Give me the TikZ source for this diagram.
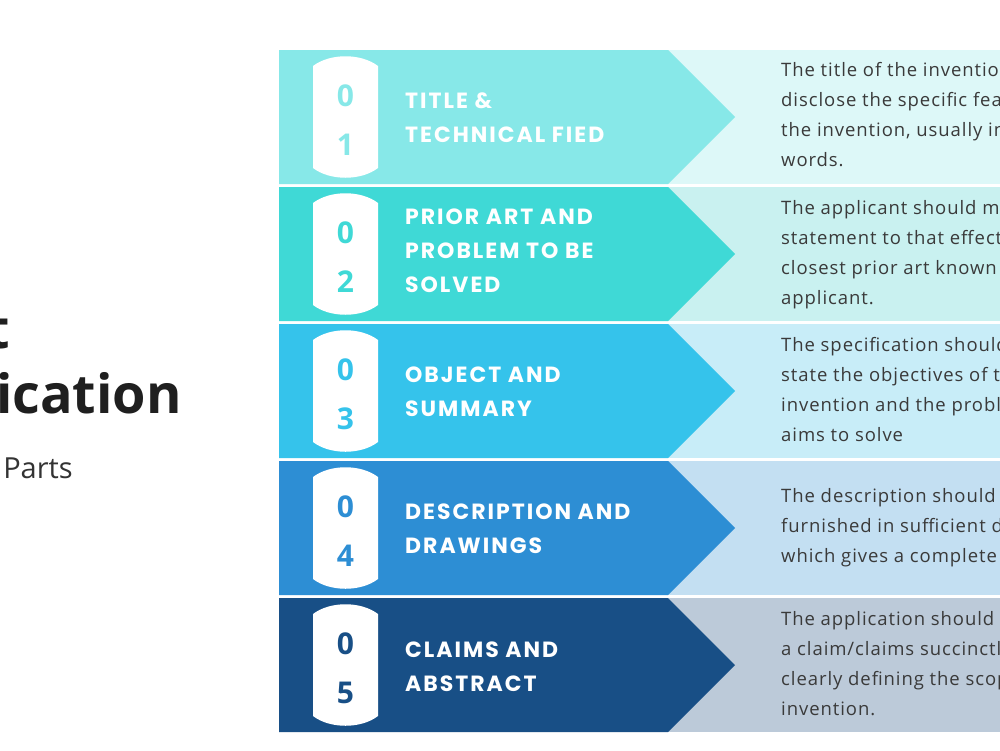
\documentclass[tikz,border=0pt]{standalone}
\usepackage{fontspec}
\setmainfont{Open Sans}
\newfontfamily\lbl[LetterSpace=9]{Poppins}
\newfontfamily\nmf{Open Sans}
\newfontfamily\dsc[LetterSpace=5]{Open Sans}
\definecolor{cA}{HTML}{87E8E8}\definecolor{lA}{HTML}{DDF8F8}
\definecolor{cB}{HTML}{3FD9D6}\definecolor{lB}{HTML}{C9F1F0}
\definecolor{cC}{HTML}{35C3EB}\definecolor{lC}{HTML}{C8EDF8}
\definecolor{cD}{HTML}{2D8ED4}\definecolor{lD}{HTML}{C3DFF2}
\definecolor{cE}{HTML}{184F86}\definecolor{lE}{HTML}{BCCAD9}
\definecolor{txt}{HTML}{3A3A3A}
\tikzset{
  lab/.style={anchor=west,text=white,font=\lbl\bfseries\fontsize{22}{34}\selectfont,align=left,inner sep=0pt},
  num/.style={font=\nmf\bfseries\fontsize{30}{30}\selectfont,inner sep=0pt},
  desc/.style={anchor=base west,text=txt,font=\dsc\fontsize{18.5}{20}\selectfont,inner sep=0pt},
}
\begin{document}
\begin{tikzpicture}[x=1pt,y=-1pt]
\useasboundingbox (0,0) rectangle (1000,750);
\clip (0,0) rectangle (1000,750);
\fill[white] (0,0) rectangle (1000,750);
% left title
\node[anchor=base east,font=\bfseries\fontsize{54}{50}\selectfont,text=black!88,inner sep=0pt] (t1) at (10,348) {Patent};
\node[anchor=base east,font=\bfseries\fontsize{54}{50}\selectfont,text=black!88,inner sep=0pt] (t2) at (182,413) {Specification};
\node[anchor=base east,font=\fontsize{29}{30}\selectfont,text=black!80,inner sep=0pt] (t3) at (73,478) {Its Parts};
% rows
\foreach \i/\c/\l/\na/\nb in {0/cA/lA/0/1,1/cB/lB/0/2,2/cC/lC/0/3,3/cD/lD/0/4,4/cE/lE/0/5}{
  \pgfmathsetmacro\t{50+137*\i}
  \pgfmathsetmacro\b{\t+134}
  \pgfmathsetmacro\m{\t+67}
  \fill[\l] (668,\t) rectangle (1000,\b);
  \fill[\c] (279,\t) -- (668,\t) -- (735,\m) -- (668,\b) -- (279,\b) -- cycle;
  \fill[white] (313,\t+16) .. controls (330,\t+3) and (361,\t+3) .. (378,\t+16) -- (378,\b-16) .. controls (361,\b-3) and (330,\b-3) .. (313,\b-16) -- cycle;
  \node[num,text=\c] (na\i) at (345.5,\m-21) {\na};
  \node[num,text=\c] (nb\i) at (345.5,\m+28) {\nb};
}
\node[lab] (l1) at (405,118) {TITLE \&\\TECHNICAL FIED};
\node[lab] (l2) at (405,251) {PRIOR ART AND\\PROBLEM TO BE\\SOLVED};
\node[lab] (l3) at (405,392) {OBJECT AND\\SUMMARY};
\node[lab] (l4) at (405,529) {DESCRIPTION AND\\DRAWINGS};
\node[lab] (l5) at (405,667) {CLAIMS AND\\ABSTRACT};
% descriptions
\node[desc] (d11) at (781,76) {The title of the invention should};
\node[desc] (d12) at (781,106) {disclose the specific features of};
\node[desc] (d13) at (781,136) {the invention, usually in 15};
\node[desc] (d14) at (781,166) {words.};
\node[desc] (d21) at (781,214) {The applicant should make a};
\node[desc] (d22) at (781,244) {statement to that effect of};
\node[desc] (d23) at (781,274) {closest prior art known to the};
\node[desc] (d24) at (781,304) {applicant.};
\node[desc] (d31) at (781,351) {The specification should};
\node[desc] (d32) at (781,381) {state the objectives of the};
\node[desc] (d33) at (781,411) {invention and the problem it};
\node[desc] (d34) at (781,441) {aims to solve};
\node[desc] (d41) at (781,502) {The description should be};
\node[desc] (d42) at (781,532) {furnished in sufficient detail};
\node[desc] (d43) at (781,562) {which gives a complete};
\node[desc] (d51) at (781,625) {The application should contain};
\node[desc] (d52) at (781,655) {a claim/claims succinctly};
\node[desc] (d53) at (781,685) {clearly defining the scope of};
\node[desc] (d54) at (781,715) {invention.};
\end{tikzpicture}
\end{document}
